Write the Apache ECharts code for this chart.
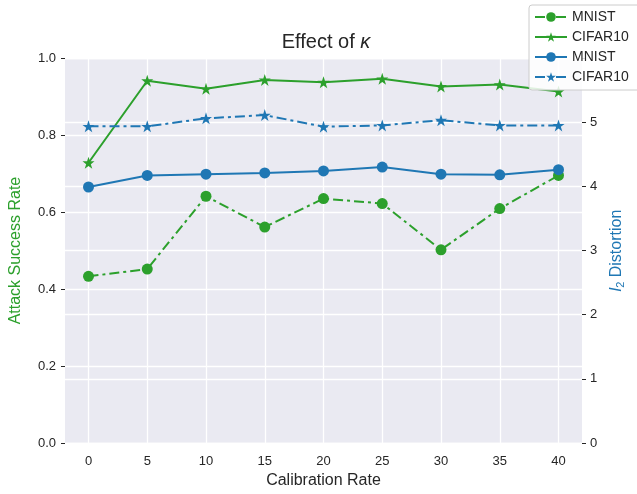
<!DOCTYPE html>
<html><head><meta charset="utf-8">
<script src="https://cdn.jsdelivr.net/npm/echarts@6/dist/echarts.min.js"></script>
<style>html,body{margin:0;padding:0;background:#fff}#c{width:637px;height:494px}</style>
</head><body><div id="c"></div>
<script>
const calibration = [0, 5, 10, 15, 20, 25, 30, 35, 40];
const asrMnist   = [0.433, 0.452, 0.641, 0.561, 0.635, 0.622, 0.502, 0.609, 0.695];
const asrCifar   = [0.728, 0.941, 0.920, 0.943, 0.937, 0.946, 0.926, 0.931, 0.913];
const distMnist  = [3.99, 4.17, 4.19, 4.21, 4.24, 4.30, 4.19, 4.18, 4.26];
const distCifar  = [4.935, 4.935, 5.06, 5.11, 4.93, 4.95, 5.03, 4.95, 4.95];
const leftTicks  = [0, 0.2, 0.4, 0.6, 0.8, 1.0];
const rightTicks = [0, 1, 2, 3, 4, 5];

const GREEN = '#2ca02c', BLUE = '#1f77b4', TXT = '#262626';
const FONT = 'Liberation Sans';
const dashDot = [10, 4, 3, 4];
const STAR = 'path://M50,0 L61.8,35.4 L99,35.4 L69.1,57.3 L80.9,92.7 L50,70.8 L19.1,92.7 L30.9,57.3 L1,35.4 L38.2,35.4 Z';
const pairs = vals => calibration.map((x, i) => [x, vals[i]]);

const chart = echarts.init(document.getElementById('c'));
const mk = (name, vals, color, yi, symbol, dash, size) => ({
  name, type: 'line', yAxisIndex: yi, data: pairs(vals),
  symbol, symbolSize: size, showSymbol: true,
  lineStyle: { color, width: 2, type: dash ? dashDot : 'solid' },
  itemStyle: { color },
  emphasis: { disabled: true }, z: 3
});
chart.setOption({
  animation: false,
  textStyle: { fontFamily: FONT },
  title: {
    text: 'Effect of {i|κ}', left: 321, top: 27, textAlign: 'center',
    textStyle: { fontSize: 20, fontWeight: 'normal', color: TXT, fontFamily: FONT,
      rich: { i: { fontSize: 20, fontStyle: 'italic', color: TXT, fontFamily: FONT } } }
  },
  legend: {
    orient: 'vertical', left: 529, top: 5, itemGap: 6,
    itemWidth: 32, itemHeight: 12,
    padding: [5, 12, 6, 5],
    backgroundColor: 'rgba(255,255,255,0.85)', borderColor: '#cccccc', borderWidth: 1, borderRadius: 3,
    textStyle: { fontSize: 14, color: TXT, fontFamily: FONT },
    data: ['MNIST', 'CIFAR10', 'MNIST ', 'CIFAR10 ']
  },
  grid: { left: 60, right: 55, top: 58, bottom: 48, show: true, backgroundColor: '#eaeaf2', borderWidth: 0 },
  xAxis: {
    type: 'value', min: -2, max: 42,
    name: 'Calibration Rate', nameLocation: 'middle', nameGap: 28,
    nameTextStyle: { fontSize: 16, color: TXT, fontFamily: FONT },
    axisLine: { show: false, onZero: false },
    axisTick: { show: false, customValues: calibration },
    axisLabel: { customValues: calibration, fontSize: 13, color: TXT, margin: 12, fontFamily: FONT },
    splitLine: { show: true, lineStyle: { color: '#ffffff', width: 1.3 } }
  },
  yAxis: [
    { type: 'value', min: 0, max: 1, interval: 0.2,
      name: 'Attack Success Rate', nameLocation: 'middle', nameGap: 41, nameRotate: 90,
      nameTextStyle: { fontSize: 16, color: GREEN, fontFamily: FONT },
      axisLine: { show: false, onZero: false },
      axisTick: { show: true, length: 4, lineStyle: { color: TXT } },
      axisLabel: { formatter: v => v.toFixed(1), fontSize: 13, color: TXT, margin: 9, fontFamily: FONT },
      splitLine: { show: true, lineStyle: { color: '#ffffff', width: 1.3 } } },
    { type: 'value', min: 0, max: 6, interval: 1, position: 'right',
      name: '{i|l}{s|2} Distortion', nameLocation: 'middle', nameGap: 26, nameRotate: 90,
      nameTextStyle: { fontSize: 16, color: BLUE, fontFamily: FONT,
        rich: { i: { fontStyle: 'italic', fontSize: 16, color: BLUE, fontFamily: FONT },
                s: { fontSize: 11, color: BLUE, fontFamily: FONT, padding: [7, 0, 0, 0] } } },
      axisLine: { show: false, onZero: false },
      axisTick: { show: true, length: 4, lineStyle: { color: TXT } },
      axisLabel: { formatter: v => (v === 6 ? '' : String(v)), fontSize: 13, color: TXT, margin: 8, fontFamily: FONT },
      splitLine: { show: true, lineStyle: { color: '#ffffff', width: 1.3 } } }
  ],
  series: [
    mk('MNIST', asrMnist, GREEN, 0, 'circle', true, 11),
    mk('CIFAR10', asrCifar, GREEN, 0, STAR, false, 12),
    mk('MNIST ', distMnist, BLUE, 1, 'circle', false, 11),
    mk('CIFAR10 ', distCifar, BLUE, 1, STAR, true, 12)
  ]
});
</script></body></html>
